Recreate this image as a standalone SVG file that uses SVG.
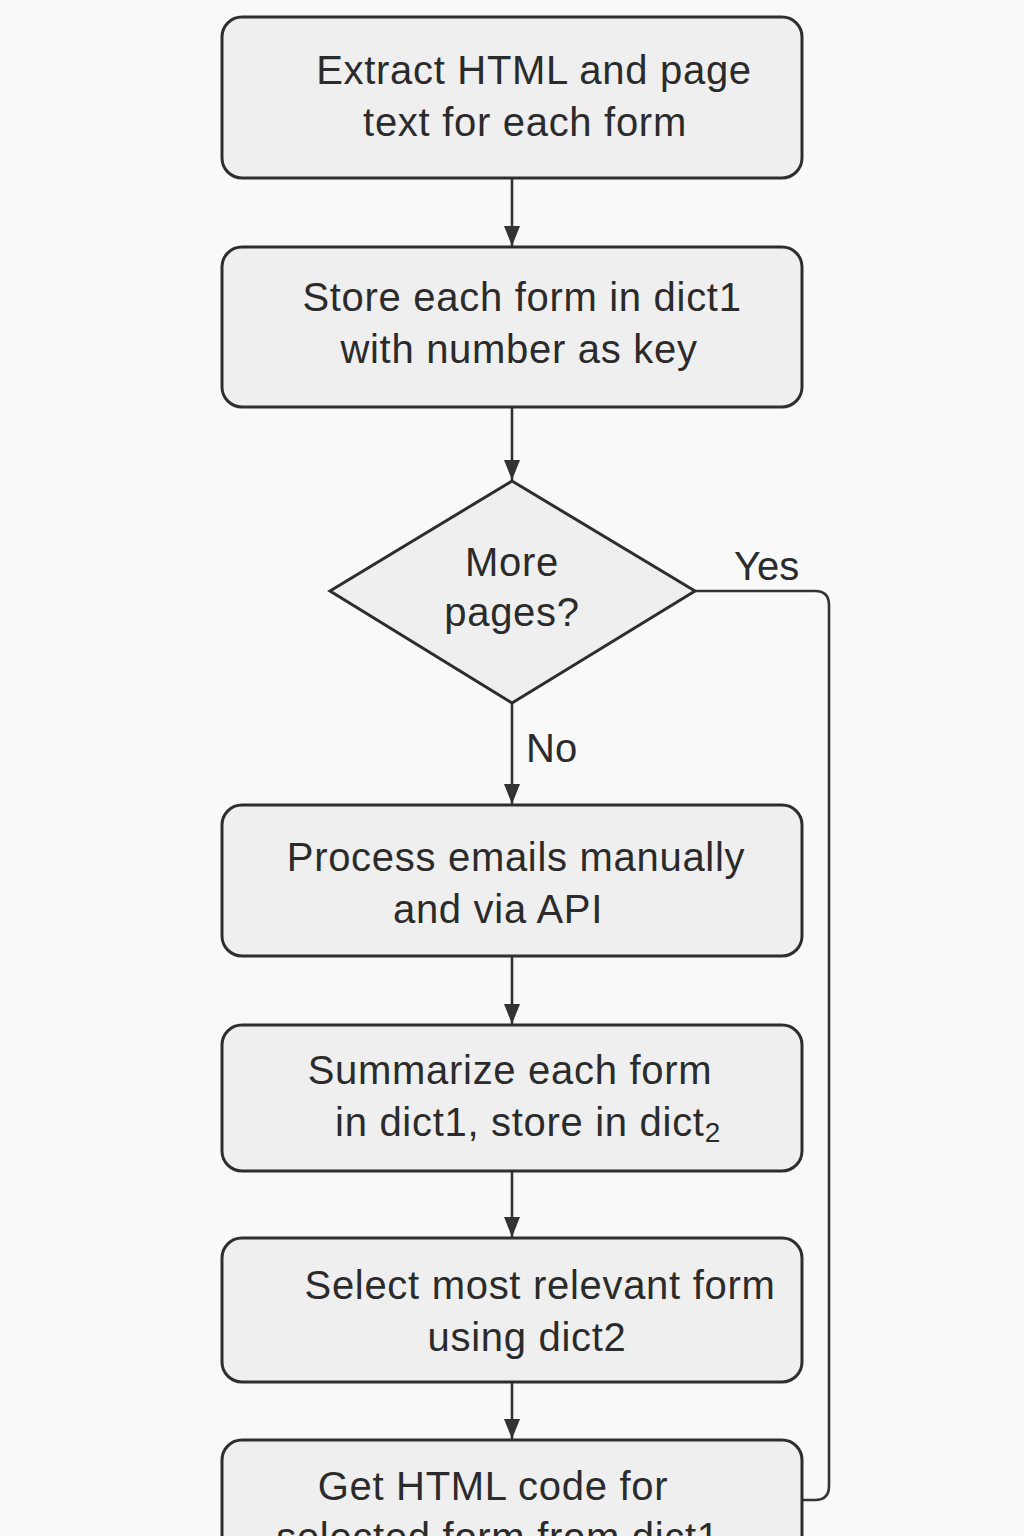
<svg xmlns="http://www.w3.org/2000/svg" width="1024" height="1536" viewBox="0 0 1024 1536">
<defs>
<marker id="arr" markerUnits="userSpaceOnUse" markerWidth="20" markerHeight="16" refX="20" refY="8" orient="auto" viewBox="0 0 20 16">
<path d="M0,0 L20,8 L0,16 Z" fill="#333"/>
</marker>
<style>
.box{fill:#efefef;stroke:#2e2e2e;stroke-width:3}
.t{font-family:"Liberation Sans",Arial,sans-serif;font-size:40px;fill:#2b2b2b;text-anchor:middle;letter-spacing:0.7px}
.lbl{font-family:"Liberation Sans",Arial,sans-serif;font-size:40px;fill:#2b2b2b}
.c{fill:none;stroke:#333;stroke-width:2.6}
</style>
</defs>
<rect width="1024" height="1536" fill="#f9f9f9"/>
<g id="connectors">
<path class="c" d="M512,178 V246" marker-end="url(#arr)"/>
<path class="c" d="M512,407 V480" marker-end="url(#arr)"/>
<path class="c" d="M512,703 V804" marker-end="url(#arr)"/>
<path class="c" d="M512,956 V1024" marker-end="url(#arr)"/>
<path class="c" d="M512,1171 V1237" marker-end="url(#arr)"/>
<path class="c" d="M512,1382 V1439" marker-end="url(#arr)"/>
<path class="c" d="M695,591 H815 Q829,591 829,605 V1486 Q829,1500 815,1500 H802"/>
<text class="lbl" x="734" y="580">Yes</text>
<text class="lbl" x="526" y="762">No</text>
</g>
<g id="n1">
<rect class="box" x="222" y="17" width="580" height="161" rx="20"/>
<text class="t" x="534" y="84">Extract HTML and page</text>
<text class="t" x="525" y="136">text for each form</text>
</g>
<g id="n2">
<rect class="box" x="222" y="247" width="580" height="160" rx="20"/>
<text class="t" x="522" y="311">Store each form in dict1</text>
<text class="t" x="519" y="363">with number as key</text>
</g>
<g id="n3">
<path class="box" d="M512,481 L695,591 L512,703 L330,591 Z"/>
<text class="t" x="512" y="576">More</text>
<text class="t" x="512" y="626">pages?</text>
</g>
<g id="n4">
<rect class="box" x="222" y="805" width="580" height="151" rx="20"/>
<text class="t" x="516" y="871">Process emails manually</text>
<text class="t" x="498" y="923">and via API</text>
</g>
<g id="n5">
<rect class="box" x="222" y="1025" width="580" height="146" rx="20"/>
<text class="t" x="510" y="1084">Summarize each form</text>
<text class="t" x="528" y="1136">in dict1, store in dict<tspan font-size="28" dy="6">2</tspan></text>
</g>
<g id="n6">
<rect class="box" x="222" y="1238" width="580" height="144" rx="20"/>
<text class="t" x="540" y="1299">Select most relevant form</text>
<text class="t" x="527" y="1351">using dict2</text>
</g>
<g id="n7">
<rect class="box" x="222" y="1440" width="580" height="140" rx="20"/>
<text class="t" x="493" y="1500">Get HTML code for</text>
<text class="t" x="498" y="1551">selected form from dict1</text>
</g>
</svg>
